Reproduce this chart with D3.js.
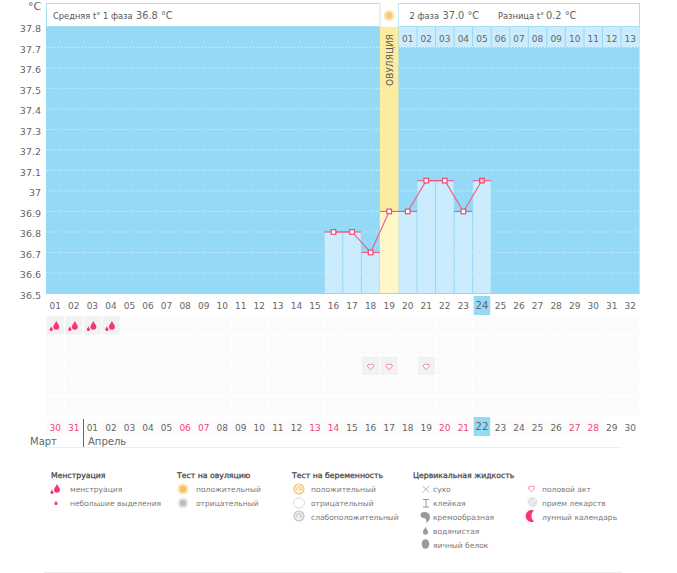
<!DOCTYPE html>
<html><head><meta charset="utf-8">
<script src="https://cdn.jsdelivr.net/npm/d3@7"></script>
<style>html,body{margin:0;padding:0;background:#fff}svg{display:block}text{font-family:"DejaVu Sans",sans-serif}</style>
</head><body><svg id="c" width="677" height="573"></svg>
<script>
const yTicks=[37.8,37.7,37.6,37.5,37.4,37.3,37.2,37.1,37,36.9,36.8,36.7,36.6,36.5];
const cycleDays=d3.range(1,33);
const tempDays=[16,17,18,19,20,21,22,23,24];
const tempValues=[36.8,36.8,36.7,36.9,36.9,37.05,37.05,36.9,37.05];
const phase2Labels=["01","02","03","04","05","06","07","08","09","10","11","12","13"];
const dateLabels=["30","31","01","02","03","04","05","06","07","08","09","10","11","12","13","14","15","16","17","18","19","20","21","22","23","24","25","26","27","28","29","30"];
const weekendDays=[1,2,8,9,15,16,22,23,29,30];
const menstruationDays=[1,2,3,4];
const intercourseDays=[18,19,21];
const ovulationDay=19, todayDay=24;
const rowNames=[0,1,2,3,4];

const svg=d3.select("#c");
const x=d3.scaleBand().domain(cycleDays).range([46,639.6]);
const y=d3.scaleLinear().domain([36.5,37.8]).range([293.5,26.8]);
const rowY=d3.scaleBand().domain(rowNames).range([316,417]);
const cx=d=>x(d)+x.bandwidth()/2;
const BG="#94d9f5",LIGHT="#cbecfd",PINK="#ef5b85",GRAY="#666";
const T=(s,px,py,o={})=>svg.append("text").attr("x",px).attr("y",py).text(s)
  .attr("font-size",o.size||9).attr("fill",o.fill||GRAY).attr("text-anchor",o.anchor||"start")
  .attr("font-weight",o.weight||null);

// plot
svg.append("rect").attr("x",46).attr("y",y(37.8)).attr("width",593.6).attr("height",y(36.5)-y(37.8)).attr("fill",BG);
// grid
yTicks.slice(1,-1).forEach(v=>svg.append("line").attr("x1",46).attr("x2",639.6).attr("y1",y(v)).attr("y2",y(v))
  .attr("stroke","#fff").attr("stroke-width",1).attr("stroke-dasharray","1 2").attr("opacity",.7));
// y labels
yTicks.forEach(v=>T(d3.format(v===37?"d":".1f")(v),41,y(v)+5.3,{anchor:"end",size:9.5}));
T("°C",28,10,{size:11});

// header box
svg.append("rect").attr("x",46.5).attr("y",3.5).attr("width",593).attr("height",23).attr("fill","#fff").attr("stroke","#a5e0f5");
svg.append("rect").attr("x",x(ovulationDay)).attr("y",3).attr("width",x.bandwidth()).attr("height",24).attr("fill","#fff");
[x(ovulationDay),x(ovulationDay)+x.bandwidth()].forEach(px=>svg.append("line").attr("x1",px).attr("x2",px).attr("y1",3).attr("y2",27).attr("stroke","#c4e9f7"));
T("Средняя t° 1 фаза",53,19,{size:8.3,fill:"#555"});
T("36.8 °C",136,19,{size:9.8,fill:"#666"});
T("2 фаза",409.5,19,{size:8.3,fill:"#555"});
T("37.0 °C",442.5,19,{size:9.8,fill:"#666"});
T("Разница t°",498,19,{size:8.3,fill:"#555"});
T("0.2 °C",546,19,{size:9.8,fill:"#666"});

// phase-2 day strip
phase2Labels.forEach((s,i)=>{const d=ovulationDay+1+i;
  svg.append("rect").attr("x",x(d)+.5).attr("y",27).attr("width",x.bandwidth()-1).attr("height",20).attr("fill",LIGHT);
  T(s,cx(d),42,{anchor:"middle",size:9});});

// ovulation column
svg.append("rect").attr("x",x(ovulationDay)).attr("y",y(37.8)).attr("width",x.bandwidth()).attr("height",y(36.5)-y(37.8)).attr("fill","#fcec9f");
T("ОВУЛЯЦИЯ",0,0,{size:9,fill:"#555",anchor:"middle"}).attr("transform",`translate(${cx(ovulationDay)+3.5},60) rotate(-90)`);

// bars
tempDays.forEach((d,i)=>{const v=tempValues[i];
  svg.append("rect").attr("x",x(d)+(d===ovulationDay?0:.5)).attr("y",y(v)).attr("width",x.bandwidth()-(d===ovulationDay?0:1)).attr("height",y(36.5)-y(v))
   .attr("fill",d===ovulationDay?"#fff6c9":LIGHT);
  svg.append("line").attr("x1",x(d)).attr("x2",x(d)+x.bandwidth()).attr("y1",y(v)).attr("y2",y(v)).attr("stroke","#f0608a").attr("stroke-width",1.2);
});
svg.append("line").attr("x1",46).attr("x2",639.6).attr("y1",293.5).attr("y2",293.5).attr("stroke","#94d9f5");
// line + points
const ln=d3.line().x((d,i)=>cx(tempDays[i])).y(d=>y(d));
svg.append("path").attr("d",ln(tempValues)).attr("fill","none").attr("stroke",PINK).attr("stroke-width",1.1);
tempDays.forEach((d,i)=>svg.append("rect").attr("x",cx(d)-2.3).attr("y",y(tempValues[i])-2.3).attr("width",4.6).attr("height",4.6)
  .attr("fill",d===todayDay?"#fbb":"#fff").attr("stroke","#ec4a78").attr("stroke-width",1.2));

// sun
const sun=(px,py,r,c1,c2)=>{svg.append("circle").attr("cx",px).attr("cy",py).attr("r",r).attr("fill",c2);
  svg.append("circle").attr("cx",px).attr("cy",py).attr("r",r*.58).attr("fill",c1);};
sun(cx(ovulationDay),15.5,5.5,"#f9c76f","#fbe6b8");

// cell grid
rowNames.forEach(r=>cycleDays.forEach(d=>{
  const on=(r===0&&menstruationDays.includes(d))||(r===2&&intercourseDays.includes(d));
  svg.append("rect").attr("x",x(d)+.5).attr("y",rowY(r)).attr("width",x.bandwidth()-1).attr("height",rowY.bandwidth()-1.5).attr("fill",on?"#f2f2f2":"#fbfbfb");
}));
// icons
const drop=(px,py,s,c)=>svg.append("path").attr("transform",`translate(${px},${py}) scale(${s})`)
  .attr("d","M0,-4.2 C.6,-2 2.6,-.8 2.6,1 A2.6,2.6 0 0 1 -2.6,1 C-2.6,-.8 -.6,-2 0,-4.2Z").attr("fill",c);
const blood=(px,py)=>{drop(px+1.5,py-.5,1.15,"#f5376f");drop(px-3.5,py+2.8,.62,"#f5376f");};
const heart=(px,py,f)=>svg.append("path").attr("transform",`translate(${px},${py})`)
  .attr("d","M0,3 C-1.5,1.9 -3,.6 -3,-.9 A1.6,1.6 0 0 1 0,-1.5 A1.6,1.6 0 0 1 3,-.9 C3,.6 1.5,1.9 0,3Z")
  .attr("fill",f).attr("stroke","#f4779b").attr("stroke-width",1);
menstruationDays.forEach(d=>blood(cx(d)-.5,326));
intercourseDays.forEach(d=>heart(cx(d),366.5,"#fff"));

// top day row
cycleDays.forEach(d=>{
  if(d===todayDay) svg.append("rect").attr("x",x(d)+1).attr("y",296).attr("width",x.bandwidth()-2).attr("height",19).attr("fill",BG);
  T(String(d).padStart(2,"0"),cx(d),d===todayDay?309:308.5,{anchor:"middle",size:d===todayDay?10:9});
});
// date row
dateLabels.forEach((s,i)=>{const d=i+1;
  if(d===todayDay) svg.append("rect").attr("x",x(d)+1).attr("y",417).attr("width",x.bandwidth()-2).attr("height",19).attr("fill",BG);
  else if(d<31) svg.append("rect").attr("x",x(d)+.5).attr("y",418).attr("width",x.bandwidth()-1).attr("height",18).attr("fill","#fcfcfc");
  T(s,cx(d),d===todayDay?429.5:431,{anchor:"middle",size:d===todayDay?10.5:9,fill:weekendDays.includes(d)?"#f5447a":GRAY});
});
// months
svg.append("line").attr("x1",83.5).attr("x2",83.5).attr("y1",419).attr("y2",447).attr("stroke","#666");
T("Март",30,445,{size:10});
T("Апрель",88,445,{size:10});
svg.append("line").attr("x1",46).attr("x2",622).attr("y1",447.5).attr("y2",447.5).attr("stroke","#eeeeee");
svg.append("line").attr("x1",44).attr("x2",622).attr("y1",572.5).attr("y2",572.5).attr("stroke","#eeeeee");

// legend
const LH="#444",LT="#777",LS=7.55;
const H=(s,px,py)=>T(s,px,py,{size:7.75,fill:LH}).attr("stroke",LH).attr("stroke-width",.25);
const L=(s,px,py)=>T(s,px,py,{size:LS,fill:LT});
H("Менструация",51,478);
blood(55.5,489); L("менструация",70,492);
drop(56,503,.6,"#f5376f"); L("небольшие выделения",70,506);
H("Тест на овуляцию",177,478);
sun(183,489,5.5,"#f9bf5f","#fbe3b5"); L("положительный",196,492);
sun(183,503,5.5,"#bdbdbd","#e8e8e8"); L("отрицательный",196,506);
H("Тест на беременность",292,478);
const preg=(px,py,ring,fill)=>{
  svg.append("circle").attr("cx",px).attr("cy",py).attr("r",5).attr("fill",fill).attr("stroke",ring).attr("stroke-width",1.2);
  svg.append("path").attr("d",`M${px-2.5},${py+1} A2.6,2.6 0 1 1 ${px+2.4},${py+1} L${px},${py}`).attr("fill","none").attr("stroke",ring).attr("stroke-width",1);
};
preg(299,489,"#f8c272","#fdf0d6"); L("положительный",311,492);
svg.append("ellipse").attr("cx",299).attr("cy",503).attr("rx",5.5).attr("ry",5).attr("fill","#fff").attr("stroke","#ddd");
L("отрицательный",311,506);
preg(299,516,"#c2c2c2","#efefef"); L("слабоположительный",311,520);
H("Цервикальная жидкость",413,478);
const G="#9a9a9a";
svg.append("path").attr("d","M422.5,486 L429.5,492.5 M429.5,486 L422.5,492.5").attr("stroke","#bbb").attr("fill","none");
L("сухо",433,492);
svg.append("path").attr("d","M423,499.5 H429 M426,499.5 V507 M423,507 H429").attr("stroke",G).attr("fill","none");
L("клейкая",433,506);
svg.append("path").attr("d","M421,513 C424,511 430,512 430,517 C430,520 428,522 426,523 C427,520 426,518 423,518 C421,518 420,515 421,513Z").attr("fill",G);
L("кремообразная",433,520);
drop(425.5,531,1,G); L("водянистая",433,534);
svg.append("ellipse").attr("cx",425.5).attr("cy",544).attr("rx",3.8).attr("ry",4.8).attr("fill",G);
L("яичный белок",433,548);
heart(531.5,488.5,"#fff"); L("половой акт",542,492);
svg.append("circle").attr("cx",532.5).attr("cy",502).attr("r",5).attr("fill","#e4e4e4");
svg.append("line").attr("x1",529).attr("y1",505).attr("x2",536).attr("y2",499).attr("stroke","#fff");
L("прием лекарств",542,506);
svg.append("path").attr("d","M534,510.5 A6,6 0 1 0 534,521.5 A7,7 0 0 1 534,510.5Z").attr("fill","#f5376f");
L("лунный календарь",542,520);
</script></body></html>
